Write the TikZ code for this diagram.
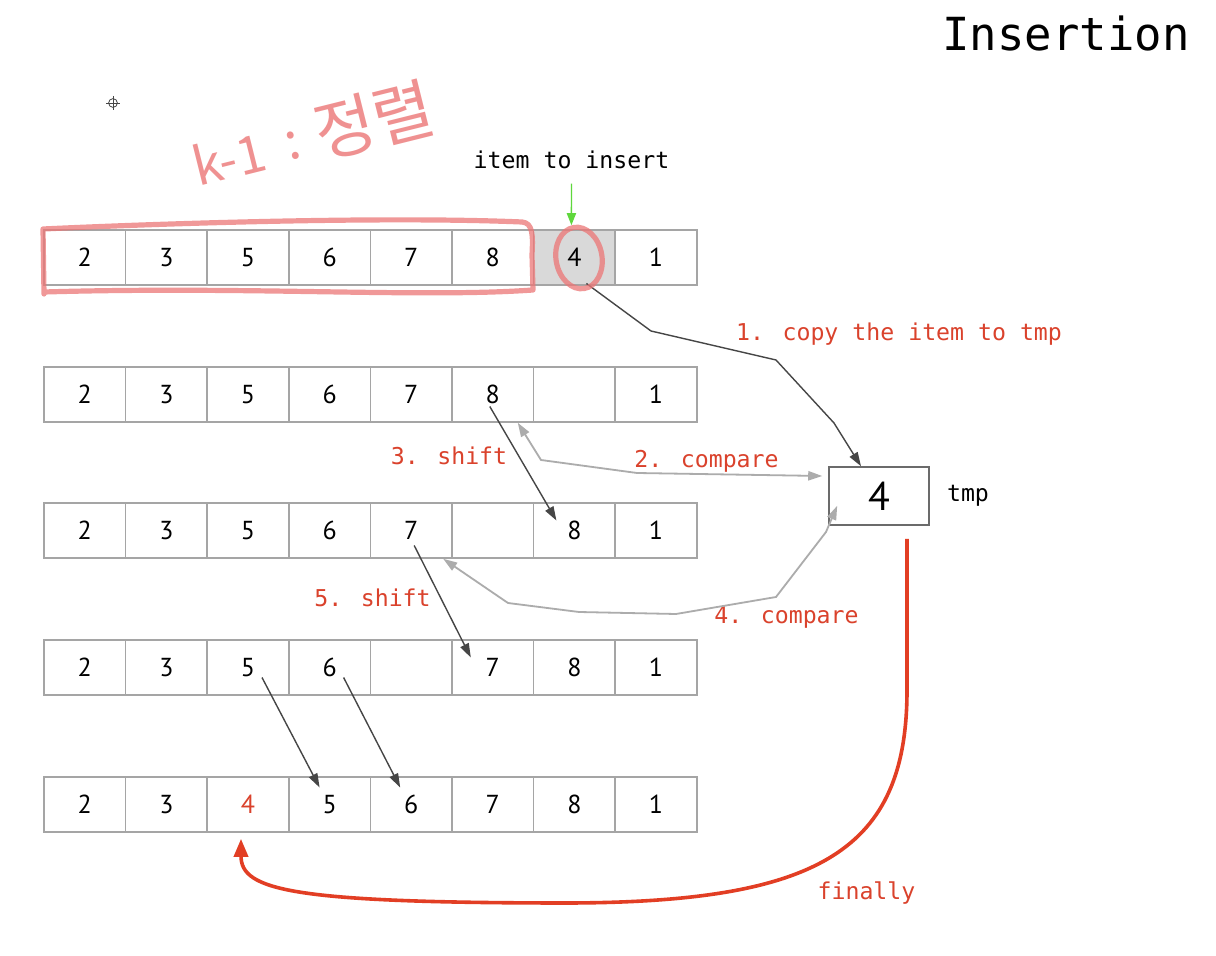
\documentclass[tikz,border=0pt]{standalone}
\usepackage{fontspec}
\setmainfont{PT Sans}
\newfontfamily\monof{DejaVu Sans Mono}
\newfontfamily\krfont{Noto Sans CJK KR}
\usetikzlibrary{arrows.meta,calc}
\definecolor{cellgray}{RGB}{165,165,165}
\definecolor{fillgray}{RGB}{217,217,217}
\definecolor{darkarr}{RGB}{70,70,70}
\definecolor{lightarr}{RGB}{172,172,172}
\definecolor{lblred}{RGB}{218,66,44}
\definecolor{arrred}{RGB}{226,62,36}
\definecolor{pinkhand}{RGB}{236,118,118}
\definecolor{greenarr}{RGB}{95,215,60}
\begin{document}
\begin{tikzpicture}[x=0.5pt,y=-0.5pt,
  cell/.style={draw=cellgray, line width=0.8pt, minimum width=40.8pt, minimum height=27.5pt, inner sep=0pt, font=\fontsize{13}{15}\selectfont},
  tmpbox/.style={draw=darkarr!80, line width=0.8pt, minimum width=50pt, minimum height=29pt, inner sep=0pt, font=\fontsize{20}{22}\selectfont},
  mono/.style={font=\monof\fontsize{11.6}{14}\selectfont, inner sep=0pt, anchor=base},
  redlbl/.style={mono, text=lblred},
  darr/.style={draw=darkarr, line width=0.7pt, -{Triangle[length=7pt,width=4.6pt]}},
  larr/.style={draw=lightarr, line width=0.9pt, {Triangle[length=7pt,width=4.6pt]}-{Triangle[length=7pt,width=4.6pt]}},
  redarr/.style={draw=arrred, line width=1.8pt, -{Triangle[length=9pt,width=7pt]}},
  pinkpen/.style={draw=pinkhand, draw opacity=0.75, line width=2.6pt, line cap=round, line join=round},
  handtext/.style={text=pinkhand, text opacity=0.8, inner sep=0pt, rotate=14},
]
\useasboundingbox (0,0) rectangle (1216,956);
\fill[white] (0,0) rectangle (1216,956);

% title
\node[mono, font=\monof\fontsize{22.8}{26}\selectfont] (title) at (1066,51) {Insertion};

% cursor mark
\coordinate (cur) at (113,103);
\draw[darkarr, line width=0.4pt] (cur) circle (2.2pt);
\draw[darkarr, line width=0.4pt] ($(cur)+(0,-7)$) -- ($(cur)+(0,7)$) ($(cur)+(-7,0)$) -- ($(cur)+(7,0)$);

% row 1
\node[cell, fill=fillgray] (r1c7) at ({3.2+81.6*7},257.5) {4};
\foreach \c/\v in {1/2,2/3,3/5,4/6,5/7,6/8,8/1}
  \node[cell] (r1c\c) at ({3.2+81.6*\c},257.5) {\v};
% row 2
\foreach \c/\v in {1/2,2/3,3/5,4/6,5/7,6/8,7/{},8/1}
  \node[cell] (r2c\c) at ({3.2+81.6*\c},394.5) {\v};
% row 3
\foreach \c/\v in {1/2,2/3,3/5,4/6,5/7,6/{},7/8,8/1}
  \node[cell] (r3c\c) at ({3.2+81.6*\c},530.5) {\v};
% row 4
\foreach \c/\v in {1/2,2/3,3/5,4/6,5/{},6/7,7/8,8/1}
  \node[cell] (r4c\c) at ({3.2+81.6*\c},667.5) {\v};
% row 5
\foreach \c/\v in {1/2,2/3,4/5,5/6,6/7,7/8,8/1}
  \node[cell] (r5c\c) at ({3.2+81.6*\c},804.5) {\v};
\node[cell, text=lblred] (r5c3) at ({3.2+81.6*3},804.5) {4};

% tmp
\node[tmpbox] (tmp) at (879,496) {4};
\node[mono] (tmplbl) at (968,502) {tmp};

% labels
\node[mono] (itemlbl) at (571.5,169) {item to insert};
\node[redlbl] (l1) at (899,341) {1. copy the item to tmp};
\node[redlbl] (l2) at (706.5,468) {2. compare};
\node[redlbl] (l3) at (449,465) {3. shift};
\node[redlbl] (l4) at (786.5,624) {4. compare};
\node[redlbl] (l5) at (372.5,607) {5. shift};
\node[redlbl] (l6) at (866.5,899) {finally};

% green arrow
\draw[draw=greenarr, line width=0.7pt, -{Triangle[length=6pt,width=4.6pt]}] ($(itemlbl.south)+(0,14)$) -- ($(r1c7.north)+(-3,-4)$);

% 1. copy
\draw[darr] ($(r1c7.center)+(12,26)$) -- (651,331) -- (776,360) -- (834,423) -- ($(tmp.north)+(-18,0)$);
% 2. compare
\draw[larr] ($(r2c6.south)+(25,0)$) -- (541,460) -- (637,473) -- ($(tmp.west)+(-6,-20)$);
% 3. shift
\draw[darr] ($(r2c6.center)+(-3,12)$) -- ($(r3c7.center)+(-18,-10)$);
% 4. compare
\draw[larr] ($(r3c5.south)+(32,0)$) -- (508,603) -- (579,612) -- (676,614) -- (776,597) -- (826,532) -- ($(tmp.south west)+(9,-20)$);
% 5. shift
\draw[darr] ($(r3c5.center)+(3,15)$) -- ($(r4c6.center)+(-22,-10)$);
% row4 -> row5
\draw[darr] ($(r4c3.center)+(14,10)$) -- ($(r5c4.center)+(-10,-17)$);
\draw[darr] ($(r4c4.center)+(14,10)$) -- ($(r5c5.center)+(-11,-17)$);
% finally
\draw[redarr] ($(tmp.south)+(28,13)$) -- (907,690) .. controls (907,850) and (820,902) .. (570,903) .. controls (290,903) and (241,890) .. ($(r5c3.south)+(-7,6)$);

% handwritten annotations
\draw[pinkpen] (44,294) -- (43,229) .. controls (150,224) and (380,216) .. (522,222) .. controls (533,223) and (533,235) .. (532,255) -- (533,290) .. controls (420,298) and (250,286) .. (44,292);
\draw[pinkpen] (579,258) ellipse [x radius=11.5pt, y radius=15.5pt, rotate=10];
\node[handtext, font=\krfont\fontsize{26}{28}\selectfont] (handk) at (229,158) {k-1};
\node[handtext, font=\krfont\fontsize{26}{28}\selectfont] (handc) at (293,146) {:};
\node[handtext, font=\krfont\fontsize{33}{35}\selectfont] (handw) at (374,120) {정렬};
\end{tikzpicture}
\end{document}
